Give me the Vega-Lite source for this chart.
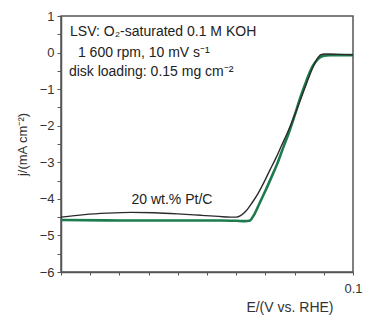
{
  "$schema": "https://vega.github.io/schema/vega-lite/v6.json",
  "width": 292,
  "height": 256,
  "autosize": {"type": "none"},
  "padding": {"left": 61, "top": 16, "right": 12, "bottom": 48},
  "background": "white",
  "config": {
    "font": "Liberation Sans",
    "view": {"stroke": "#555", "strokeWidth": 1.5},
    "axis": {"domainColor": "#555", "domainWidth": 1.5, "tickColor": "#555", "labelColor": "#333", "titleColor": "#333", "labelFont": "Liberation Sans", "titleFont": "Liberation Sans", "grid": false}
  },
  "datasets": {
    "curves": [
      {"series": "black", "E": 0.10, "j": -4.50},
      {"series": "black", "E": 0.18, "j": -4.43},
      {"series": "black", "E": 0.26, "j": -4.39},
      {"series": "black", "E": 0.34, "j": -4.37},
      {"series": "black", "E": 0.42, "j": -4.38},
      {"series": "black", "E": 0.50, "j": -4.41},
      {"series": "black", "E": 0.58, "j": -4.45},
      {"series": "black", "E": 0.64, "j": -4.48},
      {"series": "black", "E": 0.68, "j": -4.50},
      {"series": "black", "E": 0.70, "j": -4.50},
      {"series": "black", "E": 0.715, "j": -4.46},
      {"series": "black", "E": 0.735, "j": -4.32},
      {"series": "black", "E": 0.755, "j": -4.10},
      {"series": "black", "E": 0.775, "j": -3.85},
      {"series": "black", "E": 0.795, "j": -3.55},
      {"series": "black", "E": 0.815, "j": -3.22},
      {"series": "black", "E": 0.835, "j": -2.90},
      {"series": "black", "E": 0.855, "j": -2.55},
      {"series": "black", "E": 0.875, "j": -2.20},
      {"series": "black", "E": 0.895, "j": -1.82},
      {"series": "black", "E": 0.915, "j": -1.40},
      {"series": "black", "E": 0.935, "j": -0.97},
      {"series": "black", "E": 0.955, "j": -0.55},
      {"series": "black", "E": 0.975, "j": -0.20},
      {"series": "black", "E": 0.99, "j": -0.06},
      {"series": "black", "E": 1.005, "j": -0.04},
      {"series": "black", "E": 1.05, "j": -0.05},
      {"series": "black", "E": 1.10, "j": -0.06},
      {"series": "green", "E": 0.10, "j": -4.58},
      {"series": "green", "E": 0.30, "j": -4.59},
      {"series": "green", "E": 0.50, "j": -4.59},
      {"series": "green", "E": 0.65, "j": -4.59},
      {"series": "green", "E": 0.70, "j": -4.60},
      {"series": "green", "E": 0.73, "j": -4.61},
      {"series": "green", "E": 0.745, "j": -4.60},
      {"series": "green", "E": 0.76, "j": -4.45},
      {"series": "green", "E": 0.78, "j": -4.12},
      {"series": "green", "E": 0.80, "j": -3.78},
      {"series": "green", "E": 0.82, "j": -3.42},
      {"series": "green", "E": 0.84, "j": -3.05},
      {"series": "green", "E": 0.86, "j": -2.62},
      {"series": "green", "E": 0.88, "j": -2.20},
      {"series": "green", "E": 0.90, "j": -1.72},
      {"series": "green", "E": 0.92, "j": -1.22},
      {"series": "green", "E": 0.94, "j": -0.78},
      {"series": "green", "E": 0.96, "j": -0.40},
      {"series": "green", "E": 0.98, "j": -0.18},
      {"series": "green", "E": 1.00, "j": -0.09},
      {"series": "green", "E": 1.02, "j": -0.07},
      {"series": "green", "E": 1.10, "j": -0.07}
    ],
    "notes": [
      {"label": "LSV: O₂-saturated 0.1 M KOH", "E": 0.131, "j": 0.56},
      {"label": "1 600 rpm, 10 mV s⁻¹", "E": 0.158, "j": -0.01},
      {"label": "disk loading: 0.15 mg cm⁻²", "E": 0.127, "j": -0.53}
    ],
    "center": [
      {"label": "20 wt.% Pt/C", "E": 0.48, "j": -4.03}
    ]
  },
  "encoding": {
    "x": {
      "field": "E", "type": "quantitative",
      "scale": {"domain": [0.1, 1.1], "nice": false, "zero": false},
      "axis": {
        "values": [0.1, 0.2, 0.3, 0.4, 0.5, 0.6, 0.7, 0.8, 0.9, 1.0, 1.1],
        "labelExpr": "datum.value > 1.05 ? '0.1' : ''",
        "labelOverlap": false, "labelFlush": false, "labelBound": false,
        "labelFontSize": 13, "labelPadding": 7, "tickSize": 3,
        "title": "E/(V vs. RHE)", "titleFontSize": 14, "titleFontWeight": "normal",
        "titleAnchor": "start", "titleAlign": "right", "titleX": 272, "titleY": 39, "titleBaseline": "alphabetic"
      }
    },
    "y": {
      "field": "j", "type": "quantitative",
      "scale": {"domain": [-6, 1], "nice": false, "zero": false},
      "axis": {
        "values": [-6, -5.5, -5, -4.5, -4, -3.5, -3, -2.5, -2, -1.5, -1, -0.5, 0, 0.5, 1],
        "labelExpr": "abs(datum.value % 1) < 0.01 ? (datum.value < 0 ? '−' + abs(datum.value) : '' + datum.value) : ''",
        "labelOverlap": false, "labelFlush": false, "labelBound": false,
        "labelFontSize": 13, "labelPadding": 3, "tickSize": 4,
        "title": "j/(mA cm⁻²)", "titleFontSize": 13, "titleFontWeight": "normal", "titlePadding": 10
      }
    }
  },
  "layer": [
    {
      "data": {"name": "curves"},
      "transform": [{"filter": "datum.series === 'green'"}],
      "mark": {"type": "line", "color": "#1d7c4d", "strokeWidth": 2.6, "interpolate": "monotone"}
    },
    {
      "data": {"name": "curves"},
      "transform": [{"filter": "datum.series === 'black'"}],
      "mark": {"type": "line", "color": "#2b2b2b", "strokeWidth": 1.4, "interpolate": "monotone"}
    },
    {
      "data": {"name": "notes"},
      "mark": {"type": "text", "align": "left", "baseline": "middle", "fontSize": 14, "color": "#222"},
      "encoding": {"text": {"field": "label"}}
    },
    {
      "data": {"name": "center"},
      "mark": {"type": "text", "align": "center", "baseline": "middle", "fontSize": 14, "color": "#222"},
      "encoding": {"text": {"field": "label"}}
    }
  ]
}
